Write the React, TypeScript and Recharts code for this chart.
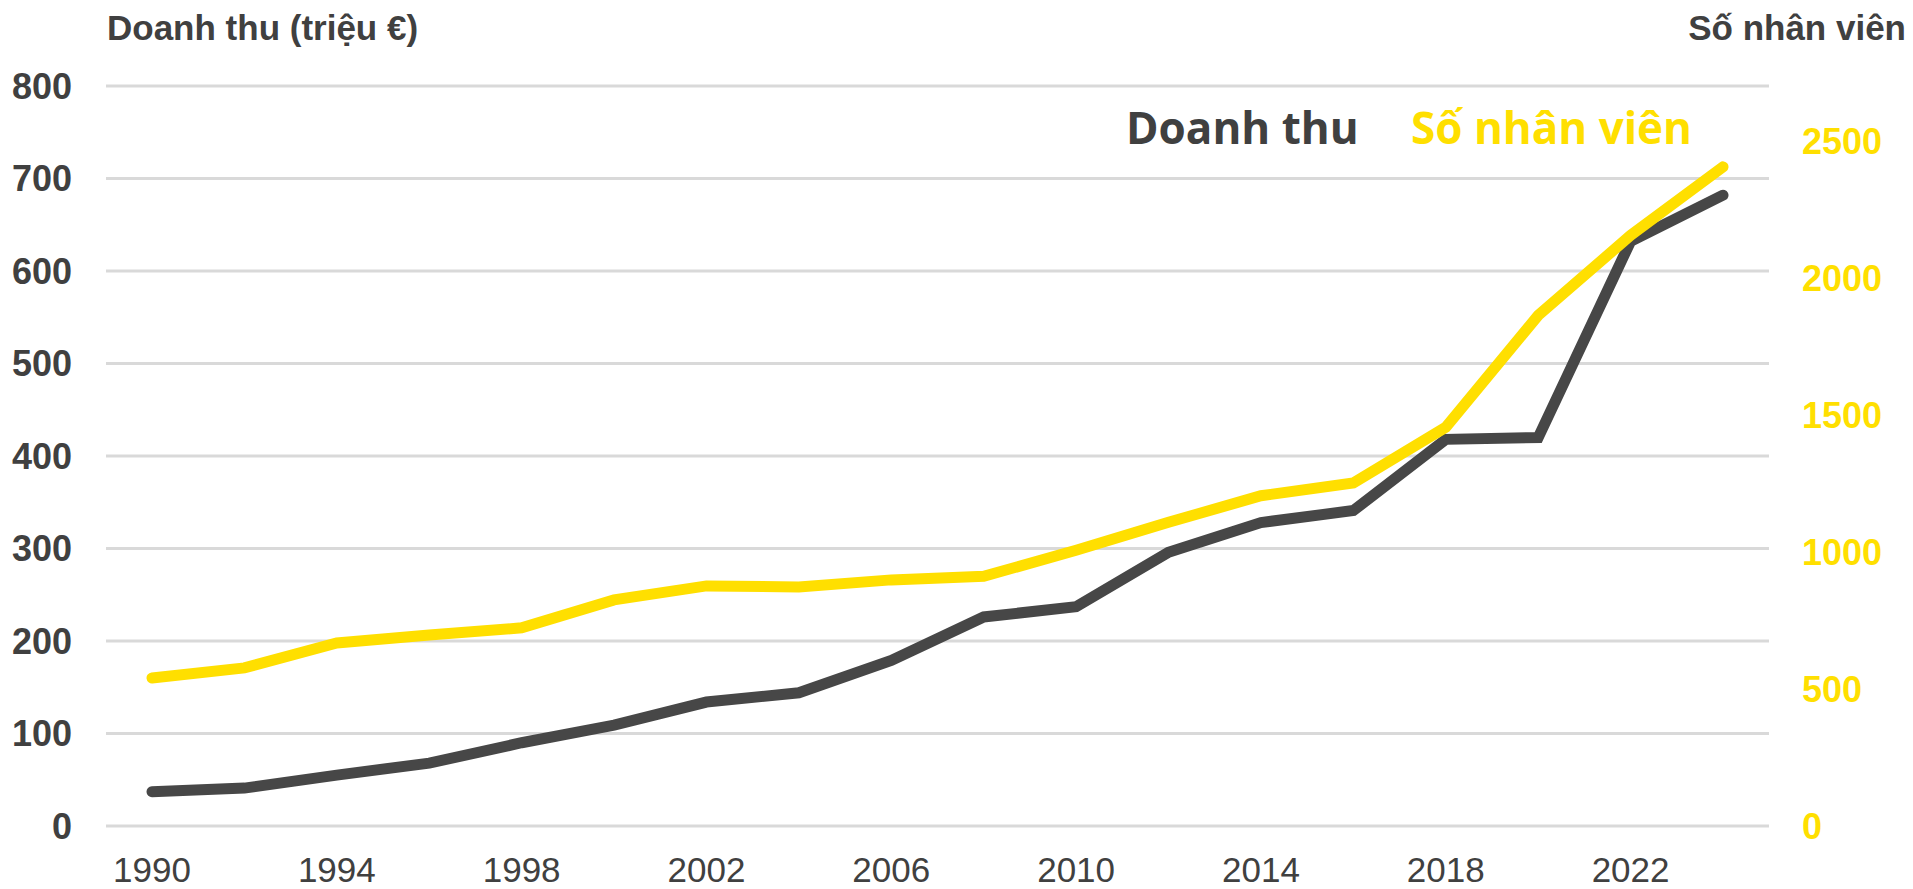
import { LineChart, Line, XAxis, YAxis, CartesianGrid } from "recharts"

const years = [
  "1990", "1992", "1994", "1996", "1998", "2000", "2002", "2004", "2006",
  "2008", "2010", "2012", "2014", "2016", "2018", "2020", "2022", "2024",
]
// revenue, million €
const revenue = [37, 41, 55, 68, 90, 109, 134, 144, 179, 226, 237, 296, 328, 341, 418, 420, 632, 682]
// headcount
const employees = [540, 577, 668, 697, 723, 825, 876, 872, 898, 911, 1006, 1108, 1205, 1252, 1455, 1863, 2155, 2405]

const leftTicks = [0, 100, 200, 300, 400, 500, 600, 700, 800]
const rightTicks = [0, 500, 1000, 1500, 2000, 2500]

const data = years.map((year, i) => ({
  year,
  revenue: revenue[i],
  employees: employees[i],
}))

const DARK = "#404040"
const YELLOW = "#FFDF00"
const FONT = "'Liberation Sans', Arial, sans-serif"

export default function App() {
  return (
    <div style={{ position: "absolute", left: 0, top: 0, width: 1913, height: 889, background: "#fff" }}>
      <LineChart
        width={1913}
        height={889}
        data={data}
        margin={{ top: 86, right: 0, bottom: 0, left: 0 }}
      >
        <CartesianGrid yAxisId="left" vertical={false} stroke="#D9D9D9" strokeWidth={3} />
        <XAxis
          dataKey="year"
          height={63}
          interval={1}
          axisLine={false}
          tickLine={false}
          tickSize={0}
          tickMargin={31}
          padding={{ left: 46, right: 46 }}
          tick={{ fill: DARK, fontSize: 35, fontFamily: FONT }}
        />
        <YAxis
          yAxisId="left"
          width={106}
          domain={[0, 800]}
          ticks={leftTicks}
          axisLine={false}
          tickLine={false}
          tickSize={0}
          tickMargin={34}
          tick={{ fill: DARK, fontSize: 36, fontWeight: 700, fontFamily: FONT }}
        />
        <YAxis
          yAxisId="right"
          orientation="right"
          width={144}
          domain={[0, 2700]}
          ticks={rightTicks}
          axisLine={false}
          tickLine={false}
          tickSize={0}
          tickMargin={33}
          tick={{ fill: YELLOW, fontSize: 36, fontWeight: 700, fontFamily: FONT, textAnchor: "start" }}
        />
        <Line
          yAxisId="left"
          type="linear"
          dataKey="revenue"
          stroke="#474747"
          strokeWidth={11}
          strokeLinecap="round"
          dot={false}
          isAnimationActive={false}
        />
        <Line
          yAxisId="right"
          type="linear"
          dataKey="employees"
          stroke={YELLOW}
          strokeWidth={11}
          strokeLinecap="round"
          dot={false}
          isAnimationActive={false}
        />
      </LineChart>

      {/* titles and in-plot legend */}
      <svg
        width={1913}
        height={889}
        style={{ position: "absolute", left: 0, top: 0, pointerEvents: "none" }}
      >
        <text x={107} y={40} fill={DARK} fontSize={35} fontWeight={700} fontFamily={FONT}>
          Doanh thu (triệu €)
        </text>
        <text x={1906} y={40} fill={DARK} fontSize={35} fontWeight={700} fontFamily={FONT} textAnchor="end">
          Số nhân viên
        </text>
        <text x={1126} y={144} fill={DARK} fontSize={44} fontWeight={700} fontFamily="'Open Sans', sans-serif">
          Doanh thu
        </text>
        <text x={1411} y={144} fill={YELLOW} fontSize={44} fontWeight={700} fontFamily="'Open Sans', sans-serif">
          Số nhân viên
        </text>
      </svg>
    </div>
  )
}
